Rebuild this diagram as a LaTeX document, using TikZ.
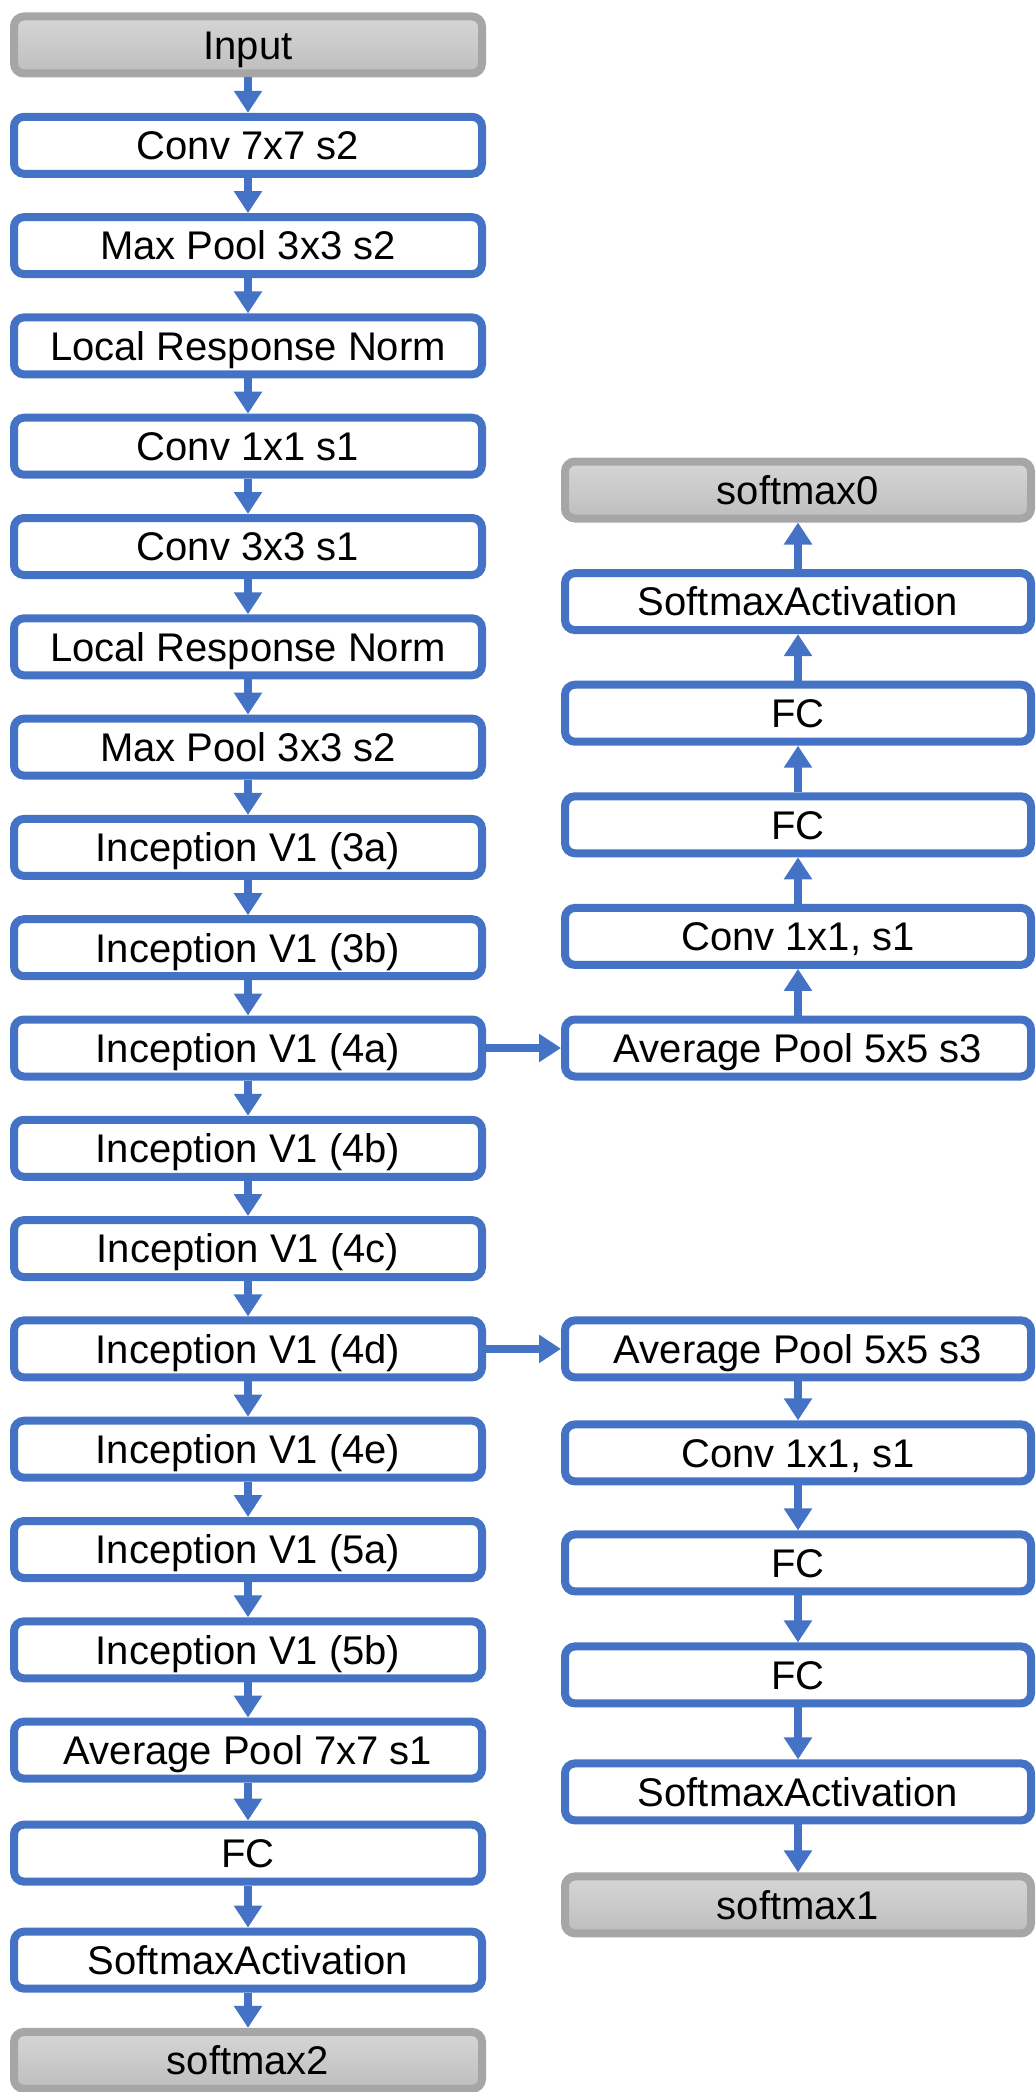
\documentclass[tikz,border=0pt]{standalone}
\usepackage{fontspec}
\setmainfont{Liberation Sans}
\usepackage{xcolor}
\usepackage{tikz}
\usetikzlibrary{arrows.meta, positioning}
\definecolor{boxblue}{HTML}{4472C4}
\definecolor{boxgray}{HTML}{A6A6A6}
\definecolor{graytop}{HTML}{D6D6D6}
\definecolor{graybot}{HTML}{BEBEBE}

\begin{document}
\begin{tikzpicture}[
    layer/.style={draw=boxblue, fill=white, line width=4pt, rounded corners=5pt,
                  minimum width=234pt, minimum height=28.5pt, inner sep=0pt,
                  font=\fontsize{20pt}{24pt}\selectfont, text height=14.3pt, text depth=0pt},
    io/.style={layer, draw=boxgray, top color=graytop, bottom color=graybot},
    aux/.style={layer, minimum width=233pt},
    auxio/.style={io, minimum width=233pt},
    arr/.style={boxblue, line width=4pt, -{Triangle[width=13.5pt, length=11pt]}},
    node distance=17.65pt
]
\useasboundingbox (0,0) rectangle (518pt,-1046pt);

\node[io] (m0) at (124pt,-22.5pt) {Input};
\node[layer, below=of m0] (m1) {Conv 7x7 s2};
\node[layer, below=of m1] (m2) {Max Pool 3x3 s2};
\node[layer, below=of m2] (m3) {Local Response Norm};
\node[layer, below=of m3] (m4) {Conv 1x1 s1};
\node[layer, below=of m4] (m5) {Conv 3x3 s1};
\node[layer, below=of m5] (m6) {Local Response Norm};
\node[layer, below=of m6] (m7) {Max Pool 3x3 s2};
\node[layer, below=of m7] (m8) {Inception V1 (3a)};
\node[layer, below=of m8] (m9) {Inception V1 (3b)};
\node[layer, below=of m9] (m10) {Inception V1 (4a)};
\node[layer, below=of m10] (m11) {Inception V1 (4b)};
\node[layer, below=of m11] (m12) {Inception V1 (4c)};
\node[layer, below=of m12] (m13) {Inception V1 (4d)};
\node[layer, below=of m13] (m14) {Inception V1 (4e)};
\node[layer, below=of m14] (m15) {Inception V1 (5a)};
\node[layer, below=of m15] (m16) {Inception V1 (5b)};
\node[layer, below=of m16] (m17) {Average Pool 7x7 s1};
\node[layer, below=19pt of m17] (m18) {FC};
\node[layer, below=21pt of m18] (m19) {SoftmaxActivation};
\node[io, below=of m19] (m20) {softmax2};

\node[aux, right=37.5pt of m10] (a1) {Average Pool 5x5 s3};
\node[aux, above=23.3pt of a1] (a2) {Conv 1x1, s1};
\node[aux, above=23.3pt of a2] (a3) {FC};
\node[aux, above=23.3pt of a3] (a4) {FC};
\node[aux, above=23.3pt of a4] (a5) {SoftmaxActivation};
\node[auxio, above=23.3pt of a5] (a6) {softmax0};

\node[aux, right=37.5pt of m13] (b1) {Average Pool 5x5 s3};
\node[aux, below=19.5pt of b1] (b2) {Conv 1x1, s1};
\node[aux, below=22.5pt of b2] (b3) {FC};
\node[aux, below=23.5pt of b3] (b4) {FC};
\node[aux, below=26pt of b4] (b5) {SoftmaxActivation};
\node[auxio, below=24pt of b5] (b6) {softmax1};

\foreach \i [count=\j from 1] in {0,...,19}
    \draw[arr] (m\i) -- (m\j);
\foreach \i [count=\j from 2] in {1,...,5}
    \draw[arr] (a\i) -- (a\j);
\foreach \i [count=\j from 2] in {1,...,5}
    \draw[arr] (b\i) -- (b\j);
\draw[arr] (m10) -- (a1);
\draw[arr] (m13) -- (b1);
\end{tikzpicture}
\end{document}
